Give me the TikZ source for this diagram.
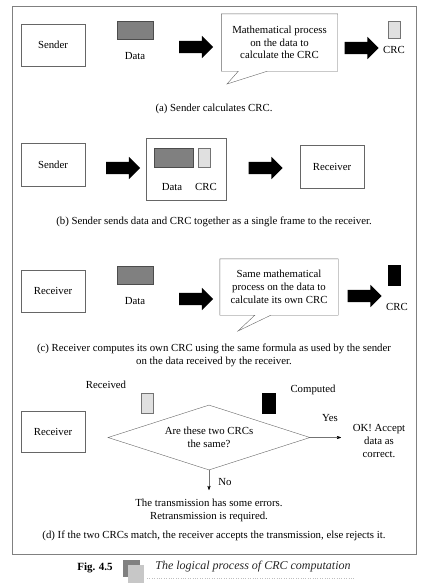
\documentclass[tikz,border=0pt]{standalone}
\usepackage{fontspec}
\setmainfont{Liberation Serif}
\usetikzlibrary{positioning, calc, shapes.geometric, shapes.arrows, arrows.meta}

\begin{document}
\begin{tikzpicture}[x=1pt,y=-1pt,node distance=6pt,>={Stealth[round]},
        font=\fontsize{10.8}{12.8}\selectfont,
        party/.style={draw=black!60,minimum width=64pt,minimum height=42pt,inner sep=0pt},
        datablk/.style={draw=black!70,fill=black!50,minimum width=36pt,minimum height=18pt,inner sep=0pt},
        crcblk/.style={draw=black!55,fill=black!12,minimum width=12pt,minimum height=18pt,inner sep=0pt},
        owncrc/.style={crcblk,draw=black,fill=black},
        bigarrow/.style={single arrow,fill=black,inner sep=6pt,single arrow head extend=5pt,minimum height=34pt},
        bubble/.style={minimum width=116pt,minimum height=57pt,align=center},
        outline/.style={draw=black!60,line join=miter},
        thinarrow/.style={draw=black!55,-{Stealth[round,length=5pt,width=3.5pt,black]}}]
    \useasboundingbox (0,0) rectangle (438,587);
    \draw[black!50,line width=0.9pt] (12,6) rectangle (416,554);

    % (a) sender side
    \node[party]   (sender_a) at (53,45)    {Sender};
    \node[datablk] (data_a)   at (135,30)   {};
    \node (datal_a) [below=10pt of data_a]  {Data};
    \node[bigarrow] (arr_a1)  at (193,47)   {};
    \node[bubble]  (calc_a)   at (279.5,42.5) {Mathematical process\\on the data to\\calculate the CRC};
    \coordinate (tip_a) at (227,84);
    \draw[outline] (calc_a.south west) -- (calc_a.north west) -- (calc_a.north east) -- (calc_a.south east)
        -- ($(calc_a.south west)+(46,0)$) -- (tip_a) -- ($(calc_a.south west)+(17,0)$) -- cycle;
    \node[bigarrow] (arr_a2)  at (358.5,48) {};
    \node[crcblk,minimum height=17pt] (crc_a) at (394,29.5) {};
    \node (crcl_a) [below=5pt of crc_a]     {CRC};
    \node (cap_a) at (214,109) {(a) Sender calculates CRC.};

    % (b) frame
    \node[party,minimum height=43pt] (sender_b) at (53,164.5) {Sender};
    \node[bigarrow] (arr_b1)  at (120,168)  {};
    \node[draw=black!60,minimum width=80pt,minimum height=62pt] (frame_b) at (186,169) {};
    \node[datablk,minimum width=39pt,minimum height=19pt] (data_b) at (173.5,157.5) {};
    \node[crcblk,minimum height=19pt] (crc_b) at (204,157.5) {};
    \node (datal_b) at (172,187) {Data};
    \node (crcl_b)  at (206,187) {CRC};
    \node[bigarrow] (arr_b2)  at (262.5,168) {};
    \node[party,minimum height=43pt] (recv_b) at (332,166.5) {Receiver};
    \node (cap_b) at (214,222) {(b) Sender sends data and CRC together as a single frame to the receiver.};

    % (c) receiver side
    \node[party]   (recv_c)   at (53,291)   {Receiver};
    \node[datablk] (data_c)   at (135,275)  {};
    \node (datal_c) [below=10pt of data_c]  {Data};
    \node[bigarrow] (arr_c1)  at (193,299)  {};
    \node[bubble,minimum width=118pt,minimum height=56pt] (calc_c) at (279,287) {Same mathematical\\process on the data to\\calculate its own CRC};
    \coordinate (tip_c) at (238,331);
    \draw[outline] (calc_c.south west) -- (calc_c.north west) -- (calc_c.north east) -- (calc_c.south east)
        -- ($(calc_c.south west)+(51,0)$) -- (tip_c) -- ($(calc_c.south west)+(35,0)$) -- cycle;
    \node[bigarrow] (arr_c2)  at (361.5,296) {};
    \node[owncrc,minimum height=20pt] (crc_c) at (394,275) {};
    \node (crcl_c) at (397,307) {CRC};
    \node[align=center] (cap_c) at (214,355.5) {(c) Receiver computes its own CRC using the same formula as used by the sender\\on the data received by the receiver.};

    % (d) comparison
    \node (rcvl_d) at (106,385) {Received};
    \node[crcblk,minimum height=20pt] (rcv_d) at (147,403) {};
    \node (cmpl_d) at (313,390) {Computed};
    \node[owncrc,minimum height=20pt,minimum width=13pt] (cmp_d) at (268.5,403) {};
    \node[party,minimum height=41pt] (recv_d) at (53,431.5) {Receiver};
    \node[diamond,draw=black!60,aspect=3.1,inner sep=0pt,minimum width=202pt,minimum height=65pt,align=center]
                   (dec) at (209,437.5) {Are these two CRCs\\the same?};
    \coordinate (yes_end) at (341,437.5);
    \coordinate (no_end)  at (209,490);
    \node (yes) at (330,418) {Yes};
    \node (no)  at (225,482) {No};
    \node[align=center] (ok)  at (379,441) {OK! Accept\\data as\\correct.};
    \node[align=center] (err) at (209,510) {The transmission has some errors.\\Retransmission is required.};
    \node (cap_d) at (214,536) {(d) If the two CRCs match, the receiver accepts the transmission, else rejects it.};

    \draw[thinarrow] (dec.east) -- (yes_end);
    \draw[thinarrow] (dec.south) -- (no_end);

    % figure caption
    \node[font=\fontsize{11}{13}\selectfont\bfseries] (fig) at (95,568) {Fig. 4.5};
    \fill[black!50] (123,560) rectangle (140,577);
    \fill[black!22] (128,565) rectangle (144,583);
    \node[font=\fontsize{12}{14}\selectfont\itshape,text=black!85] (title) at (253,567) {The logical process of CRC computation};
    \draw[black!25,dotted] (147,578) -- (355,578);
\end{tikzpicture}
\end{document}
